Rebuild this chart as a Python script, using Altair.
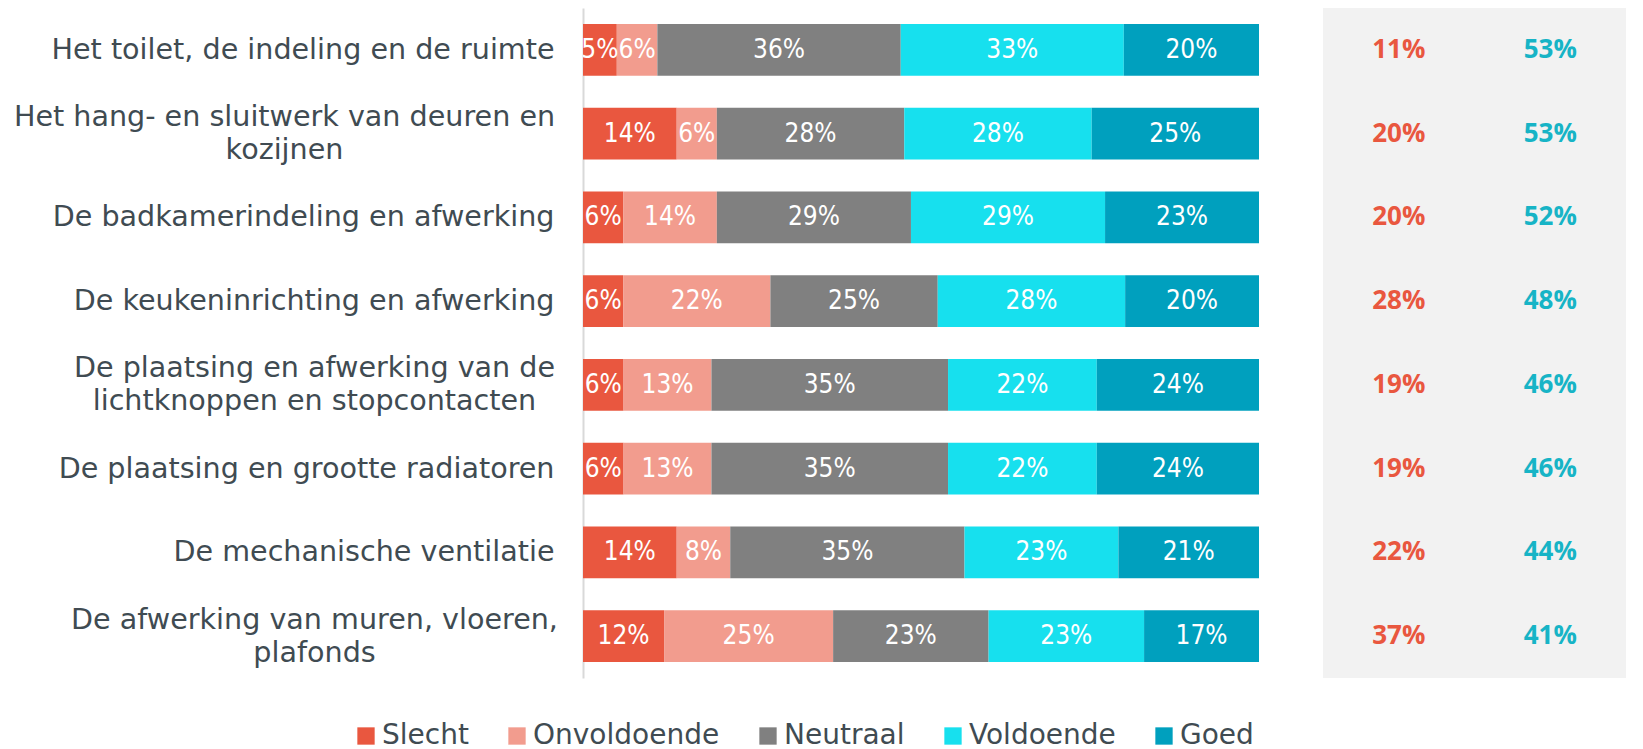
import altair as alt
import pandas as pd

items = [
    "Het toilet, de indeling en de ruimte",
    "Het hang- en sluitwerk van deuren en|kozijnen",
    "De badkamerindeling en afwerking",
    "De keukeninrichting en afwerking",
    "De plaatsing en afwerking van de|lichtknoppen en stopcontacten",
    "De plaatsing en grootte radiatoren",
    "De mechanische ventilatie",
    "De afwerking van muren, vloeren,|plafonds",
]
categories = ["Slecht", "Onvoldoende", "Neutraal", "Voldoende", "Goed"]
slecht = [5, 14, 6, 6, 6, 6, 14, 12]
onvoldoende = [6, 6, 14, 22, 13, 13, 8, 25]
neutraal = [36, 28, 29, 25, 35, 35, 35, 23]
voldoende = [33, 28, 29, 28, 22, 22, 23, 23]
goed = [20, 25, 23, 20, 24, 24, 21, 17]
negatief = [11, 20, 20, 28, 19, 19, 22, 37]
positief = [53, 53, 52, 48, 46, 46, 44, 41]

colors = ["#E9573F", "#F29C8E", "#808080", "#17E0EE", "#00A0BE"]
series = [slecht, onvoldoende, neutraal, voldoende, goed]

rows = []
for i, item in enumerate(items):
    total = sum(s[i] for s in series)
    cum = 0
    for c, s in zip(categories, series):
        v = s[i]
        start = cum / total
        cum += v
        end = cum / total
        rows.append({"item": item, "cat": c, "value": v, "start": start,
                     "end": end, "mid": (start + end) / 2, "label": f"{v}%"})
df = pd.DataFrame(rows)

rows2 = []
for i, item in enumerate(items):
    rows2.append({"item": item, "kind": "neg", "label": f"{negatief[i]}%"})
    rows2.append({"item": item, "kind": "pos", "label": f"{positief[i]}%"})
df2 = pd.DataFrame(rows2)

yscale = alt.Scale(domain=items, paddingInner=0.38, paddingOuter=0.19)

multi = "indexof(datum.value, '|') >= 0"
base = alt.Chart(df)
bars = base.mark_bar().encode(
    y=alt.Y("item:N", sort=items, scale=yscale, title=None,
            axis=alt.Axis(labelExpr="split(datum.label, '|')", ticks=False, tickSize=0,
                          domain=True, domainColor="#D9D9D9", domainWidth=2,
                          labelFont="DejaVu Sans", labelFontSize=28.6, labelColor="#404B52",
                          labelLimit=0, labelLineHeight=33,
                          labelAlign=alt.ExprRef(expr=f"{multi} ? 'center' : 'right'"),
                          labelPadding=alt.ExprRef(
                              expr=f"{multi} ? 29 + 7.5 * length(split(datum.value, '|')[0]) : 29"),
                          labelOffset=alt.ExprRef(expr=f"{multi} ? -16.5 : 0"))),
    x=alt.X("start:Q", scale=alt.Scale(domain=[0, 1]), axis=None),
    x2="end:Q",
    color=alt.Color("cat:N", sort=categories,
                    scale=alt.Scale(domain=categories, range=colors),
                    legend=alt.Legend(orient="none", legendX=-231, legendY=714,
                                      direction="horizontal", title=None,
                                      symbolType="square", symbolSize=300,
                                      symbolStrokeWidth=0, labelFont="DejaVu Sans",
                                      labelFontSize=28, labelColor="#404B52",
                                      labelLimit=0, columnPadding=34, labelOffset=2)),
)
texts = base.mark_text(color="white", font="DejaVu Sans Condensed", fontSize=26).encode(
    y=alt.Y("item:N", sort=items, scale=yscale),
    x=alt.X("mid:Q", scale=alt.Scale(domain=[0, 1])),
    text="label:N",
)
left = alt.layer(bars, texts).properties(width=676, height=670)

rbase = alt.Chart(df2)
renc = dict(
    y=alt.Y("item:N", sort=items, scale=yscale, axis=None),
    x=alt.X("kind:N", sort=["neg", "pos"], scale=alt.Scale(domain=["neg", "pos"]), axis=None),
    text="label:N",
)
neg = rbase.encode(**renc).transform_filter(alt.datum.kind == "neg").mark_text(
    font="Open Sans", fontWeight="bold", fontSize=26, color="#E9573F")
pos = rbase.encode(**renc).transform_filter(alt.datum.kind == "pos").mark_text(
    font="Open Sans", fontWeight="bold", fontSize=26, color="#17B4C6")
right = alt.layer(neg, pos).properties(
    width=303, height=670, view=alt.ViewBackground(fill="#F2F2F2", strokeWidth=0))

chart = alt.hconcat(left, right, spacing=64).resolve_scale(
    y="independent"
).properties(padding={"left": 5, "top": 0, "right": 0, "bottom": 0}).configure_view(
    strokeWidth=0
)

chart.save("out.html", embed_options={"renderer": "svg", "actions": False})
